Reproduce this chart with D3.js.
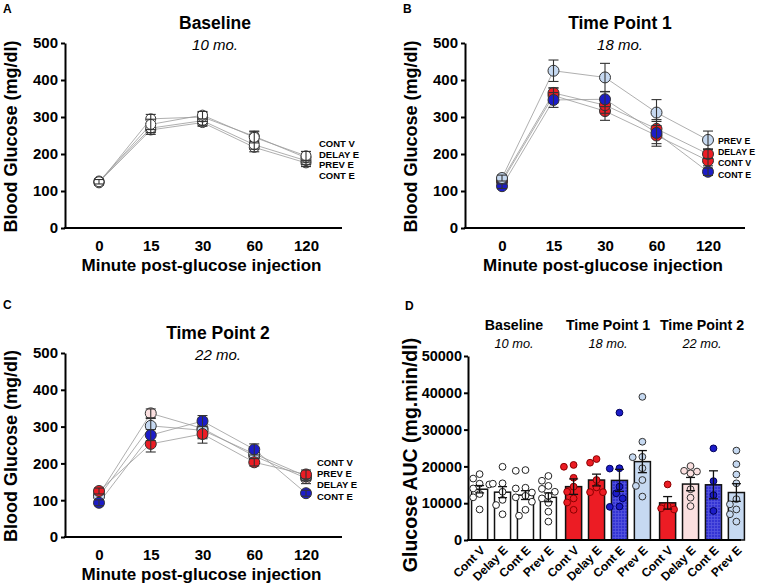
<!DOCTYPE html>
<html><head><meta charset="utf-8">
<script src="https://cdn.jsdelivr.net/npm/d3@7"></script>
<style>body{margin:0;background:#fff} svg{display:block} text{font-family:"Liberation Sans",Arial,Helvetica,sans-serif}</style>
</head><body>
<svg id="c" width="757" height="584"></svg>
<script>
// ---------- DATA ----------
const minutes = ["0", "15", "30", "60", "120"];
const glucoseTicks = [0, 100, 200, 300, 400, 500];

// Panel A – Baseline, 10 mo.
const baseContV    = [125, 280, 305, 245, 195];
const baseContVErr = [6, 14, 10, 15, 12];
const baseDelayE   = [122, 295, 300, 248, 190];
const baseDelayEErr= [6, 12, 12, 14, 12];
const basePrevE    = [127, 270, 290, 225, 182];
const basePrevEErr = [6, 12, 12, 12, 10];
const baseContE    = [124, 265, 285, 218, 176];
const baseContEErr = [6, 12, 10, 12, 10];

// Panel B – Time Point 1, 18 mo.
const tp1ContV     = [125, 358, 316, 250, 182];
const tp1ContVErr  = [8, 20, 25, 22, 14];
const tp1DelayE    = [130, 365, 332, 268, 200];
const tp1DelayEErr = [8, 14, 22, 20, 12];
const tp1PrevE     = [135, 425, 407, 312, 238];
const tp1PrevEErr  = [8, 29, 38, 35, 24];
const tp1ContE     = [113, 346, 348, 257, 152];
const tp1ContEErr  = [6, 20, 20, 36, 10];

// Panel C – Time Point 2, 22 mo.
const tp2ContV     = [125, 253, 280, 203, 170];
const tp2ContVErr  = [8, 22, 25, 10, 12];
const tp2DelayE    = [115, 336, 295, 220, 160];
const tp2DelayEErr = [8, 12, 28, 15, 15];
const tp2PrevE     = [110, 302, 290, 226, 165];
const tp2PrevEErr  = [8, 20, 20, 15, 12];
const tp2ContE     = [93, 277, 315, 238, 119];
const tp2ContEErr  = [8, 15, 15, 15, 8];

// Panel D – Glucose AUC
const aucGroups    = ["Baseline", "Time Point 1", "Time Point 2"];
const aucAges      = ["10 mo.", "18 mo.", "22 mo."];
const aucBars      = ["Cont V", "Delay E", "Cont E", "Prev E"];
const aucTicks     = [0, 10000, 20000, 30000, 40000, 50000];

const aucBaselineMean = [13800, 13000, 12200, 11600];
const aucBaselineSem  = [1000, 1500, 1200, 1200];
const aucBaselinePts  = [
  [17900, 16700, 15300, 15100, 14000, 12500, 11600, 8300],
  [19900, 15400, 15300, 13100, 10900, 9500, 7000],
  [18800, 19000, 14200, 14000, 12900, 12000, 11600, 10400, 8200, 6600],
  [17400, 16100, 14700, 13900, 13100, 12000, 11300, 10100, 7700, 5000]
];
const aucTp1Mean = [14500, 16300, 16200, 21300];
const aucTp1Sem  = [2100, 1600, 3000, 3000];
const aucTp1Pts  = [
  [19900, 20400, 16900, 14500, 13100, 11300, 10200, 8200],
  [21000, 22000, 16300, 14300, 13000, 13000],
  [34600, 19400, 19500, 14500, 12700, 11300, 9100, 9000],
  [38900, 26700, 22500, 22600, 19500, 16300, 14700, 11800]
];
const aucTp2Mean = [10100, 15200, 15000, 12900];
const aucTp2Sem  = [1700, 1800, 3800, 2400];
const aucTp2Pts  = [
  [15100, 9200, 8600, 8300],
  [20100, 18800, 18600, 18100, 13800, 11500, 9200],
  [24900, 16000, 12200, 7900],
  [24300, 20600, 17800, 15400, 11100, 9700, 8300, 7000, 5000]
];

// ---------- STYLE ----------
const RED = "#ec1c24", BLUE = "#1c1cc8", LBLUE = "#c6d9f1", PINK = "#fbe0e0", WHITE = "#ffffff";
const FONT_AXIS = 18;

const svg = d3.select("#c");
const defs = svg.append("defs");
const pat = defs.append("pattern").attr("id", "grid").attr("width", 3).attr("height", 3).attr("patternUnits", "userSpaceOnUse");
pat.append("rect").attr("width", 3).attr("height", 3).attr("fill", "#3434d4");
pat.append("path").attr("d", "M0,0.5H3M0.5,0V3").attr("stroke", "#5656e0").attr("stroke-width", 0.8);

function txt(g, x, y, s, size, opts = {}) {
  const t = g.append("text").attr("x", x).attr("y", y).text(s)
    .attr("font-size", size).attr("fill", "#000")
    .attr("font-weight", opts.weight || "bold")
    .attr("text-anchor", opts.anchor || "middle");
  if (opts.italic) t.attr("font-style", "italic");
  if (opts.rotate) t.attr("transform", `rotate(${opts.rotate},${x},${y})`);
  return t;
}

// ---------- LINE PANELS ----------
function linePanel(cfg) {
  const g = svg.append("g");
  const x = d3.scalePoint().domain(minutes).range(cfg.xr);
  const y = d3.scaleLinear().domain([0, 500]).range([cfg.bottom, cfg.top]);

  const ya = g.append("g").attr("transform", `translate(${cfg.ax},0)`)
    .call(d3.axisLeft(y).tickValues(glucoseTicks).tickSize(4).tickPadding(3).tickSizeOuter(0));
  ya.select(".domain").attr("stroke", "#000").attr("stroke-width", 2);
  ya.selectAll(".tick line").attr("stroke", "#000").attr("stroke-width", 2);
  ya.selectAll(".tick text").attr("font-size", 15).attr("font-weight", "bold").attr("fill", "#000")
    .attr("font-family", "Liberation Sans, Arial, sans-serif");

  const xa = g.append("g").attr("transform", `translate(0,${cfg.bottom})`)
    .call(d3.axisBottom(x).tickSize(0).tickPadding(13));
  xa.select(".domain").remove();
  xa.selectAll(".tick text").attr("font-size", 15).attr("font-weight", "bold").attr("fill", "#000")
    .attr("dy", 0).attr("font-family", "Liberation Sans, Arial, sans-serif").attr("y", 23);
  g.append("line").attr("x1", cfg.ax - 1).attr("x2", cfg.axEnd).attr("y1", cfg.bottom).attr("y2", cfg.bottom)
    .attr("stroke", "#000").attr("stroke-width", 2);

  // titles
  txt(g, cfg.titleX, cfg.top - 14, cfg.title, 17.5);
  txt(g, cfg.titleX, cfg.top + 7, cfg.age, 15, { italic: true, weight: "normal" });
  txt(g, (cfg.ax + cfg.axEnd) / 2 - 2, cfg.bottom + 43, "Minute post-glucose injection", 17);
  txt(g, cfg.ylabX, (cfg.top + cfg.bottom) / 2 + 1, "Blood Glucose (mg/dl)", FONT_AXIS, { rotate: -90 });
  txt(g, cfg.letterX, cfg.letterY, cfg.letter, 12, { anchor: "start" });

  const line = d3.line().x((d, i) => x(minutes[i])).y(d => y(d));
  cfg.series.forEach(s => {
    g.append("path").attr("d", line(s.v)).attr("fill", "none").attr("stroke", "#9a9a9a").attr("stroke-width", 0.8);
  });
  cfg.series.forEach(s => {
    const sg = g.append("g");
    sg.selectAll("circle").data(s.v).join("circle")
      .attr("cx", (d, i) => x(minutes[i])).attr("cy", d => y(d)).attr("r", cfg.r)
      .attr("fill", s.c).attr("stroke", "#333").attr("stroke-width", 1);
    const eb = sg.selectAll("g.eb").data(s.v).join("g");
    eb.append("line").attr("x1", (d, i) => x(minutes[i])).attr("x2", (d, i) => x(minutes[i]))
      .attr("y1", (d, i) => y(d - s.e[i])).attr("y2", (d, i) => y(d + s.e[i]))
      .attr("stroke", "#333").attr("stroke-width", 1.1);
    [-1, 1].forEach(sg2 => {
      eb.append("line").attr("x1", (d, i) => x(minutes[i]) - 5).attr("x2", (d, i) => x(minutes[i]) + 5)
        .attr("y1", (d, i) => y(d + sg2 * s.e[i])).attr("y2", (d, i) => y(d + sg2 * s.e[i]))
        .attr("stroke", "#333").attr("stroke-width", 1.1);
    });
  });
  cfg.legend.forEach((name, i) => {
    txt(g, cfg.legX, cfg.legY + i * cfg.legStep, name, cfg.legSize, { anchor: "start" });
  });
}

linePanel({
  letter: "A", letterX: 3, letterY: 13, title: "Baseline", age: "10 mo.", titleX: 215,
  ax: 65, axEnd: 342, top: 43, bottom: 228, xr: [99, 306], ylabX: 17, r: 5,
  series: [
    { v: baseContE, e: baseContEErr, c: WHITE },
    { v: basePrevE, e: basePrevEErr, c: WHITE },
    { v: baseDelayE, e: baseDelayEErr, c: WHITE },
    { v: baseContV, e: baseContVErr, c: WHITE }
  ],
  legend: ["CONT V", "DELAY E", "PREV E", "CONT E"], legX: 319, legY: 147, legStep: 10.7, legSize: 9.5
});

linePanel({
  letter: "B", letterX: 403, letterY: 13, title: "Time Point 1", age: "18 mo.", titleX: 620,
  ax: 465, axEnd: 745, top: 43, bottom: 228, xr: [502, 708], ylabX: 417, r: 5.5,
  series: [
    { v: tp1ContV, e: tp1ContVErr, c: RED },
    { v: tp1DelayE, e: tp1DelayEErr, c: RED },
    { v: tp1ContE, e: tp1ContEErr, c: BLUE },
    { v: tp1PrevE, e: tp1PrevEErr, c: LBLUE }
  ],
  legend: ["PREV E", "DELAY E", "CONT V", "CONT E"], legX: 718, legY: 144, legStep: 11.2, legSize: 8.8
});

linePanel({
  letter: "C", letterX: 3, letterY: 309, title: "Time Point 2", age: "22 mo.", titleX: 218,
  ax: 65, axEnd: 342, top: 353, bottom: 537, xr: [99, 306], ylabX: 17, r: 5.5,
  series: [
    { v: tp2DelayE, e: tp2DelayEErr, c: PINK },
    { v: tp2PrevE, e: tp2PrevEErr, c: LBLUE },
    { v: tp2ContV, e: tp2ContVErr, c: RED },
    { v: tp2ContE, e: tp2ContEErr, c: BLUE }
  ],
  legend: ["CONT V", "PREV E", "DELAY E", "CONT E"], legX: 317, legY: 466, legStep: 11.2, legSize: 9.5
});

// ---------- PANEL D ----------
(function () {
  const g = svg.append("g");
  const ax = 468, top = 356, bottom = 540, axEnd = 741;
  const y = d3.scaleLinear().domain([0, 50000]).range([bottom, top]);
  const xg = d3.scaleBand().domain(aucGroups).range([467, 749]);
  const xb = d3.scaleBand().domain(aucBars).range([0, xg.bandwidth()]).paddingInner(0.3).paddingOuter(0.2);

  const ya = g.append("g").attr("transform", `translate(${ax},0)`)
    .call(d3.axisLeft(y).tickValues(aucTicks).tickFormat(d3.format("d")).tickSize(4).tickPadding(2).tickSizeOuter(0));
  ya.select(".domain").attr("stroke", "#000").attr("stroke-width", 2);
  ya.selectAll(".tick line").attr("stroke", "#000").attr("stroke-width", 2);
  ya.selectAll(".tick text").attr("font-size", 14.5).attr("font-weight", "bold").attr("fill", "#000")
    .attr("font-family", "Liberation Sans, Arial, sans-serif");

  txt(g, 405, 310, "D", 12, { anchor: "start" });
  txt(g, 417, 455, "Glucose AUC  (mg.min/dl)", 19.5, { rotate: -90 });

  const groupsData = [
    { mean: aucBaselineMean, sem: aucBaselineSem, pts: aucBaselinePts,
      fills: [WHITE, WHITE, WHITE, WHITE], pfill: [WHITE, WHITE, WHITE, WHITE], pstroke: ["#222", "#222", "#222", "#222"] },
    { mean: aucTp1Mean, sem: aucTp1Sem, pts: aucTp1Pts,
      fills: [RED, RED, "url(#grid)", LBLUE], pfill: [RED, RED, BLUE, LBLUE], pstroke: ["#8a0000", "#8a0000", "#00005a", "#333"] },
    { mean: aucTp2Mean, sem: aucTp2Sem, pts: aucTp2Pts,
      fills: [RED, PINK, "url(#grid)", LBLUE], pfill: [RED, PINK, BLUE, LBLUE], pstroke: ["#8a0000", "#333", "#00005a", "#333"] }
  ];

  const R = 3.4;
  function swarm(vals) {
    const order = vals.map((v, i) => ({ v, i })).sort((a, b) => b.v - a.v);
    const placed = [];
    const cands = [0, -1, 1, -2, 2, -3, 3].map(k => k * R * 0.95);
    order.forEach(p => {
      const py = y(p.v);
      let best = null, bestOv = Infinity;
      for (const c of cands) {
        let ov = 0;
        placed.forEach(q => {
          const d = Math.hypot(q.x - c, q.y - py);
          if (d < 2 * R) ov += 2 * R - d;
        });
        if (ov === 0) { best = c; break; }
        if (ov < bestOv) { bestOv = ov; best = c; }
      }
      placed.push({ x: best, y: py, v: p.v });
    });
    return placed;
  }

  aucGroups.forEach((gname, gi) => {
    const gd = groupsData[gi];
    const gx = xg(gname);
    const cx0 = gx + xg.bandwidth() / 2;
    txt(g, cx0, 330, gname, 14.2);
    txt(g, cx0, 348, aucAges[gi], 12.8, { italic: true, weight: "normal" });
    aucBars.forEach((b, bi) => {
      const bx = gx + xb(b), bw = xb.bandwidth(), cx = bx + bw / 2;
      const m = gd.mean[bi], s = gd.sem[bi];
      g.append("rect").attr("x", bx).attr("y", y(m)).attr("width", bw).attr("height", bottom - y(m))
        .attr("fill", gd.fills[bi]).attr("stroke", "#111").attr("stroke-width", 1.5);
      const pts = swarm(gd.pts[bi]);
      g.selectAll(null).data(pts).join("circle")
        .attr("cx", d => cx + d.x).attr("cy", d => d.y).attr("r", R)
        .attr("fill", gd.pfill[bi]).attr("stroke", gd.pstroke[bi]).attr("stroke-width", 1);
      // error bar (mean ± SEM)
      g.append("line").attr("x1", cx).attr("x2", cx).attr("y1", y(m - s)).attr("y2", y(m + s))
        .attr("stroke", "#111").attr("stroke-width", 1.3);
      [m + s, m - s].forEach(v => g.append("line").attr("x1", cx - 4.5).attr("x2", cx + 4.5)
        .attr("y1", y(v)).attr("y2", y(v)).attr("stroke", "#111").attr("stroke-width", 1.3));
      // rotated category label
      const lx = cx + 3, ly = bottom + 8;
      g.append("text").attr("x", lx).attr("y", ly).attr("dy", "0.35em").text(b)
        .attr("font-size", 12).attr("font-weight", "bold").attr("text-anchor", "end")
        .attr("transform", `rotate(-45,${lx},${ly})`);
    });
  });
  g.append("line").attr("x1", ax - 1).attr("x2", axEnd).attr("y1", bottom).attr("y2", bottom)
    .attr("stroke", "#000").attr("stroke-width", 2);
})();
</script>
</body></html>
